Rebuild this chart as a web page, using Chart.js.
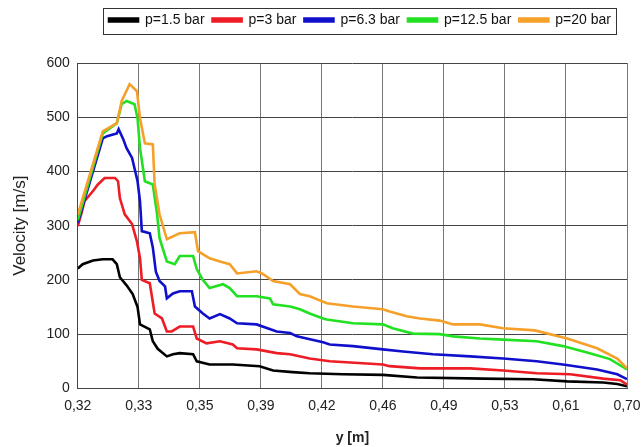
<!DOCTYPE html>
<html>
<head>
<meta charset="utf-8">
<script src="https://cdn.jsdelivr.net/npm/chart.js@4/dist/chart.umd.min.js"></script>
<style>
  html, body { margin: 0; padding: 0; background: #fff; }
  #wrap { width: 644px; height: 447px; }
</style>
</head>
<body>
<div id="wrap"><canvas id="c" width="644" height="447"></canvas></div>
<script>
// Category tick labels (evenly spaced positions on the x axis)
const xTickLabels = ['0,32','0,33','0,35','0,39','0,42','0,46','0,49','0,53','0,61','0,70'];
const seriesNames = ['p=1.5 bar','p=3 bar','p=6.3 bar','p=12.5 bar','p=20 bar'];
const seriesColors = ['#000000','#ee1c24','#1010cc','#22e022','#f5a02a'];

// [position along category axis, velocity m/s]
const p1_5 = [[0,221],[0.08,229],[0.25,236],[0.41,238],[0.57,238],[0.64,229],[0.69,205],[0.8,190],[0.9,174],[0.98,150],[1.02,118],[1.18,109],[1.23,87],[1.31,73],[1.46,59],[1.56,63],[1.67,65],[1.89,63],[1.95,50],[2.16,44],[2.54,44],[2.98,41],[3.2,33],[3.52,30],[3.8,28],[4.34,26],[5.0,25],[5.56,20],[6.64,18],[7.46,17],[8.02,13],[8.61,11],[8.84,8],[9,4]];
const p3 = [[0,299],[0.07,327],[0.11,345],[0.25,364],[0.33,376],[0.44,388],[0.61,388],[0.66,382],[0.69,351],[0.77,321],[0.89,303],[0.97,271],[1.02,240],[1.05,200],[1.18,194],[1.26,138],[1.38,129],[1.46,105],[1.54,105],[1.67,114],[1.89,114],[1.95,92],[2.11,83],[2.33,87],[2.54,81],[2.61,74],[2.93,72],[3.26,65],[3.48,63],[3.8,55],[4.13,50],[5.0,44],[5.11,41],[5.61,37],[6.43,37],[6.97,33],[7.52,28],[8.07,26],[8.61,18],[8.89,15],[9,7]];
const p6_3 = [[0,305],[0.41,461],[0.48,465],[0.64,470],[0.67,478],[0.74,461],[0.8,443],[0.89,425],[0.98,382],[1.02,345],[1.05,290],[1.18,286],[1.23,260],[1.28,215],[1.34,198],[1.43,188],[1.46,166],[1.56,175],[1.67,179],[1.87,179],[1.92,151],[2.05,138],[2.16,129],[2.33,137],[2.49,129],[2.61,120],[2.93,118],[3.26,105],[3.48,102],[3.59,96],[4.02,85],[4.13,81],[4.51,78],[5.0,72],[5.33,68],[5.82,63],[6.43,59],[6.97,55],[7.52,50],[7.95,44],[8.51,35],[8.84,26],[9,17]];
const p12_5 = [[0,310],[0.41,470],[0.64,489],[0.72,524],[0.8,530],[0.93,524],[0.98,498],[1.02,443],[1.1,382],[1.23,376],[1.3,321],[1.34,277],[1.46,234],[1.59,229],[1.67,244],[1.89,244],[1.95,220],[2.05,200],[2.16,185],[2.38,192],[2.49,185],[2.61,170],[2.93,170],[3.15,166],[3.2,155],[3.48,151],[3.64,146],[3.8,138],[4.02,129],[4.08,127],[4.51,120],[5.0,118],[5.16,111],[5.49,101],[5.93,100],[6.15,96],[6.59,92],[6.97,90],[7.52,87],[7.95,78],[8.39,65],[8.72,54],[9,35]];
const p20 = [[0,320],[0.41,474],[0.64,489],[0.72,530],[0.85,561],[0.97,548],[1.02,498],[1.1,452],[1.23,450],[1.26,376],[1.34,321],[1.46,275],[1.67,286],[1.92,288],[1.97,253],[2.16,240],[2.33,234],[2.49,229],[2.61,212],[2.93,216],[3.02,212],[3.2,198],[3.48,192],[3.64,174],[3.8,170],[4.08,157],[4.51,151],[5.0,146],[5.11,142],[5.39,133],[5.61,129],[5.93,125],[6.15,118],[6.59,118],[6.97,111],[7.49,107],[8.02,92],[8.51,74],[8.84,55],[9,37]];
const allSeries = [p1_5, p3, p6_3, p12_5, p20];

const FONT = "'Liberation Sans', Arial, sans-serif";

const legendCenterX = 360;
const legendFrame = {
  id: 'legendFrame',
  afterInit(chart) {
    const lg = chart.legend;
    if (!lg) return;
    const origFit = lg.fit;
    lg.fit = function () { origFit.call(this); this.height += 26; };
  },
  afterLayout(chart) {
    const lg = chart.legend;
    if (!lg) return;
    const shift = legendCenterX - (lg.left + lg.right) / 2;
    lg.left += shift; lg.right += shift;
    lg.legendHitBoxes.forEach(h => { h.left += shift; });
  },
  afterDraw(chart) {
    const lg = chart.legend;
    if (!lg || !lg.legendHitBoxes.length) return;
    const hb = lg.legendHitBoxes;
    let x0 = Infinity, x1 = -Infinity, y0 = Infinity, y1 = -Infinity;
    hb.forEach(h => { x0 = Math.min(x0, h.left); x1 = Math.max(x1, h.left + h.width); y0 = Math.min(y0, h.top); y1 = Math.max(y1, h.top + h.height); });
    const ctx = chart.ctx;
    ctx.save();
    ctx.strokeStyle = '#333';
    ctx.lineWidth = 1;
    const L = Math.round(x0 - 6) + 0.5, T = Math.round(y0 - 5) + 0.5;
    ctx.strokeRect(L, T, Math.round(x1 + 5) - L + 0.5, Math.round(y1 + 7) - T + 0.5);
    ctx.restore();
  }
};

new Chart(document.getElementById('c'), {
  type: 'line',
  data: {
    datasets: allSeries.map((s, i) => ({
      label: seriesNames[i],
      data: s.map(p => ({ x: p[0], y: p[1] })),
      borderColor: seriesColors[i],
      backgroundColor: seriesColors[i],
      borderWidth: 2.6,
      pointRadius: 0,
      tension: 0,
      fill: false,
      order: 5 - i
    }))
  },
  options: {
    responsive: false,
    animation: false,
    layout: { padding: { left: 4, right: 0, top: 5, bottom: 0 } },
    plugins: {
      tooltip: { enabled: false },
      legend: {
        position: 'top',
        labels: {
          sort: (a, b) => a.datasetIndex - b.datasetIndex,
          boxWidth: 29,
          boxHeight: 3,
          padding: 8,
          color: '#111',
          font: { family: FONT, size: 14 }
        }
      }
    },
    scales: {
      x: {
        type: 'linear',
        min: 0,
        max: 9,
        afterFit: s => { s.paddingRight = 17; },
        grid: { color: '#777', lineWidth: 1, drawTicks: false },
        border: { color: '#444', width: 1 },
        ticks: {
          stepSize: 1,
          padding: 9,
          color: '#222',
          font: { family: FONT, size: 14 },
          callback: v => xTickLabels[v] !== undefined ? xTickLabels[v] : ''
        },
        title: { display: true, text: 'y [m]', color: '#222', font: { family: FONT, size: 14, weight: 'bold' }, padding: { top: 7, bottom: 0 } }
      },
      y: {
        min: 0,
        max: 600,
        grid: { color: '#444', lineWidth: 1, drawTicks: false },
        border: { color: '#444', width: 1 },
        ticks: {
          stepSize: 100,
          padding: 8,
          color: '#222',
          font: { family: FONT, size: 14 }
        },
        title: { display: true, text: 'Velocity [m/s]', color: '#222', font: { family: FONT, size: 17 }, padding: { top: 6, bottom: 8 } }
      }
    }
  },
  plugins: [legendFrame]
});
</script>
</body>
</html>
